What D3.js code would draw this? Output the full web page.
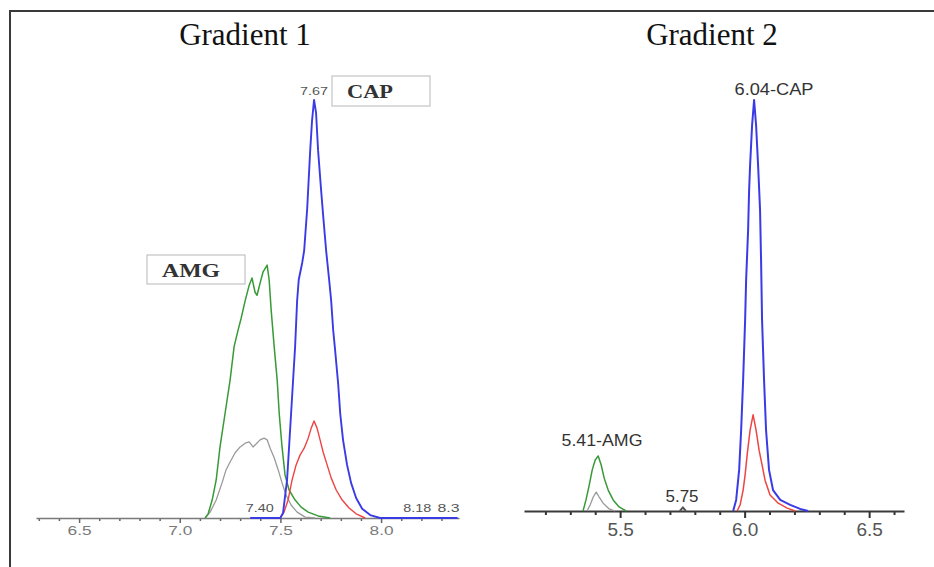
<!DOCTYPE html>
<html>
<head>
<meta charset="utf-8">
<script src="https://cdn.jsdelivr.net/npm/d3@7"></script>
<style>
  html, body { margin: 0; padding: 0; background: #fff; }
  svg { display: block; }
</style>
</head>
<body>
<div id="chart"></div>
<script>
// retention time (min) vs relative intensity (% of CAP peak)
var g1Cap = [[7.35,0],[7.499,0],[7.513,1.2],[7.533,9.1],[7.543,17],[7.553,25],[7.563,33],[7.573,41],[7.583,52],[7.591,57],
  [7.608,61],[7.618,64],[7.633,74],[7.648,88],[7.657,95],[7.667,100],[7.677,97],[7.687,88],[7.702,78.5],[7.712,72.5],
  [7.727,64],[7.742,57],[7.752,52],[7.762,45],[7.772,40],[7.787,32],[7.797,25],[7.811,18.7],[7.831,12.7],[7.851,8.4],
  [7.876,4.8],[7.906,2.2],[7.946,0.7],[7.995,0],[8.38,0]];
var g1CapIon = [[7.499,0],[7.518,1.4],[7.538,4.3],[7.558,9.1],[7.578,12.7],[7.598,15.1],[7.618,16.7],[7.638,19.1],
  [7.653,21.5],[7.667,23.2],[7.682,21.5],[7.697,18.7],[7.712,15.8],[7.732,12.7],[7.752,9.6],[7.777,6.7],[7.807,4.3],
  [7.841,2.4],[7.876,1],[7.921,0]];
var g1Amg = [[7.126,0],[7.141,1],[7.161,4.3],[7.181,9.1],[7.2,17],[7.225,25],[7.25,33],[7.27,41],[7.29,45],[7.305,47.8],
  [7.325,52],[7.345,55.7],[7.359,57.4],[7.374,54],[7.384,53.3],[7.399,56.2],[7.414,58.9],[7.434,60.5],[7.444,57],
  [7.454,49.8],[7.469,41],[7.484,33],[7.494,25],[7.508,17],[7.523,10.3],[7.543,6.7],[7.573,4.3],[7.603,2.6],
  [7.638,1.4],[7.687,0.5],[7.747,0]];
var g1AmgIon = [[7.126,0],[7.151,1.4],[7.181,4.3],[7.21,8.4],[7.23,11.5],[7.25,13.4],[7.275,15.6],[7.3,17],[7.325,17.9],
  [7.345,18.2],[7.364,17],[7.379,17.7],[7.399,18.7],[7.419,19.1],[7.434,18.7],[7.449,16.7],[7.469,14.4],[7.489,11.5],
  [7.508,8.4],[7.528,5.5],[7.553,3.1],[7.583,1.4],[7.623,0.2],[7.672,0]];

var g2Cap = [[5.954,0],[5.966,2.7],[5.978,10],[5.986,19.7],[5.994,31.9],[6.002,46.5],[6.006,56.2],[6.014,68.4],
  [6.018,78.1],[6.022,84.2],[6.03,93.9],[6.038,100],[6.046,93.9],[6.054,84.2],[6.062,73.2],[6.066,61.1],[6.07,46.5],
  [6.078,31.9],[6.086,19.7],[6.098,10],[6.114,5.1],[6.143,2.7],[6.183,1.5],[6.223,0.5],[6.255,0]];
var g2CapIon = [[5.97,0],[5.982,1.5],[5.994,5.1],[6.002,8.8],[6.01,13.6],[6.022,19.7],[6.034,23.4],[6.046,19.7],
  [6.058,14.8],[6.07,11.2],[6.082,7.5],[6.102,3.9],[6.135,1.9],[6.171,0.7],[6.203,0]];
var g2Amg = [[5.351,0],[5.363,2.7],[5.376,6.3],[5.388,10],[5.4,12.4],[5.412,13.4],[5.424,11.2],[5.436,8],[5.452,5.1],
  [5.472,2.7],[5.496,1],[5.524,0]];
var g2AmgIon = [[5.367,0],[5.38,1.5],[5.392,3.4],[5.404,4.6],[5.416,3.4],[5.432,1.9],[5.456,0.5],[5.48,0]];
var g2Blip = [[5.74,0],[5.752,0.9],[5.764,0]];

// axis ticks
var g1Major = [6.5, 7.0, 7.5, 8.0];
var g1Minor = [6.3,6.4,6.6,6.7,6.8,6.9,7.1,7.2,7.3,7.4,7.6,7.7,7.8,7.9,8.1,8.2,8.3];
var g2Major = [5.5, 6.0, 6.5];
var g2Minor = [5.2,5.3,5.4,5.6,5.7,5.8,5.9,6.1,6.2,6.3,6.4,6.6];

// peak annotations: [rt where the label sits, text]
var g1Labels = [[7.667, "7.67"], [7.397, "7.40"], [8.18, "8.18"], [8.335, "8.3"]];
var g2Labels = [[6.04, "6.04-CAP"], [5.41, "5.41-AMG"], [5.75, "5.75"]];

var W = 934, H = 567;
var svg = d3.select("#chart").append("svg").attr("width", W).attr("height", H);

// frame (only top and left edges show in the picture)
svg.append("path")
  .attr("d", "M10,567 L10,11 L934,11")
  .attr("fill", "none").attr("stroke", "#3a3a3a").attr("stroke-width", 2);

var colors = { cap: "#3b3be6", capIon: "#ee4444", amg: "#379a37", amgIon: "#9a9a9a" };

function trace(data, line, color, w) {
  svg.append("path").datum(data)
    .attr("d", line)
    .attr("fill", "none")
    .attr("stroke", color)
    .attr("stroke-width", w)
    .attr("stroke-linejoin", "round");
}

// ---------- Gradient 1 ----------
var x1 = d3.scaleLinear().domain([6.286, 8.387]).range([36, 459]);
var y1 = d3.scaleLinear().domain([0, 100]).range([518, 100]);

var ax1 = svg.append("g").attr("transform", "translate(0,518)")
  .call(d3.axisBottom(x1).tickValues(g1Minor).tickSize(3).tickSizeOuter(0).tickFormat(""));
ax1.select(".domain").remove();
ax1.selectAll("line").attr("stroke", "#666").attr("stroke-width", 1.5);
var ax1m = svg.append("g").attr("transform", "translate(0,518)")
  .call(d3.axisBottom(x1).tickValues(g1Major).tickSize(5).tickSizeOuter(0).tickFormat(d3.format(".1f")));
ax1m.select(".domain").attr("stroke", "#7a7a7a").attr("stroke-width", 1.6);
ax1m.selectAll("line").attr("stroke", "#666").attr("stroke-width", 1.5);
ax1m.selectAll("text")
  .attr("y", 8).attr("font-family", "Liberation Sans, Arial, sans-serif").attr("font-size", 13)
  .attr("fill", "#7a7a7a").attr("textLength", 24).attr("lengthAdjust", "spacingAndGlyphs");

var line1 = d3.line().x(function (d) { return x1(d[0]); }).y(function (d) { return y1(d[1]); });

trace(g1AmgIon, line1, colors.amgIon, 1.3);
trace(g1Amg, line1, colors.amg, 1.5);
trace(g1CapIon, line1, colors.capIon, 1.4);
trace(g1Cap, line1, colors.cap, 1.9);

// small rt labels
var g1Text = svg.append("g")
  .attr("font-family", "Liberation Sans, Arial, sans-serif")
  .attr("font-size", 11).attr("fill", "#555");
g1Text.append("text").attr("x", x1(g1Labels[0][0])).attr("y", 95)
  .attr("text-anchor", "middle").attr("textLength", 28).attr("lengthAdjust", "spacingAndGlyphs")
  .text(g1Labels[0][1]);
g1Labels.slice(1).forEach(function (d) {
  g1Text.append("text").attr("x", x1(d[0])).attr("y", 512)
    .attr("text-anchor", "middle")
    .attr("textLength", d[1].length > 3 ? 28 : 22).attr("lengthAdjust", "spacingAndGlyphs")
    .text(d[1]);
});

// boxed compound names
function box(x, y, w, h, label, tx, tw, ty) {
  svg.append("rect").attr("x", x).attr("y", y).attr("width", w).attr("height", h)
    .attr("fill", "#fff").attr("stroke", "#c4c4c4").attr("stroke-width", 1.2);
  svg.append("text").attr("x", tx).attr("y", ty)
    .attr("font-family", "Liberation Serif, Times New Roman, serif")
    .attr("font-size", 19).attr("font-weight", "bold").attr("fill", "#333")
    .attr("textLength", tw).attr("lengthAdjust", "spacingAndGlyphs")
    .text(label);
}
box(332, 76, 98, 30, "CAP", 347, 46, 98);
box(147, 255, 98, 29, "AMG", 162, 58, 277);

// ---------- Gradient 2 ----------
var x2 = d3.scaleLinear().domain([5.114, 6.64]).range([524, 904]);
var y2 = d3.scaleLinear().domain([0, 100]).range([511, 100]);

var ax2 = svg.append("g").attr("transform", "translate(0,511)")
  .call(d3.axisBottom(x2).tickValues(g2Minor).tickSize(4).tickSizeOuter(0).tickFormat(""));
ax2.select(".domain").remove();
ax2.selectAll("line").attr("stroke", "#333").attr("stroke-width", 2);
var ax2m = svg.append("g").attr("transform", "translate(0,511)")
  .call(d3.axisBottom(x2).tickValues(g2Major).tickSize(7).tickSizeOuter(0).tickFormat(d3.format(".1f")));
ax2m.select(".domain").attr("stroke", "#3a3a3a").attr("stroke-width", 2.2);
ax2m.selectAll("line").attr("stroke", "#333").attr("stroke-width", 2);
ax2m.selectAll("text")
  .attr("y", 12).attr("font-family", "Liberation Sans, Arial, sans-serif").attr("font-size", 19)
  .attr("fill", "#555");

var line2 = d3.line().x(function (d) { return x2(d[0]); }).y(function (d) { return y2(d[1]); });

trace(g2AmgIon, line2, colors.amgIon, 1.3);
trace(g2Amg, line2, colors.amg, 1.5);
trace(g2Blip, line2, "#555", 2);
trace(g2CapIon, line2, colors.capIon, 1.5);
trace(g2Cap, line2, colors.cap, 2);

var g2Text = svg.append("g")
  .attr("font-family", "Liberation Sans, Arial, sans-serif")
  .attr("font-size", 17).attr("fill", "#333");
var g2Pos = [[774, 95, 79], [602, 446, 81], [682, 502, 33]]; // centre x, baseline, width
g2Labels.forEach(function (d, i) {
  g2Text.append("text").attr("x", g2Pos[i][0]).attr("y", g2Pos[i][1])
    .attr("text-anchor", "middle")
    .attr("textLength", g2Pos[i][2]).attr("lengthAdjust", "spacingAndGlyphs")
    .text(d[1]);
});

// titles
svg.selectAll(".title")
  .data([["Gradient 1", 245], ["Gradient 2", 712]])
  .enter().append("text")
  .attr("x", function (d) { return d[1]; })
  .attr("y", 45)
  .attr("text-anchor", "middle")
  .attr("font-family", "Liberation Serif, Times New Roman, serif")
  .attr("font-size", 31).attr("fill", "#111")
  .text(function (d) { return d[0]; });
</script>
</body>
</html>
